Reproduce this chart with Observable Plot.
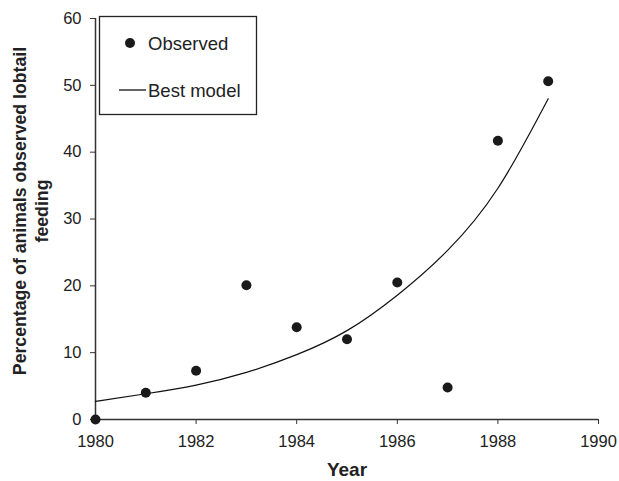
<!DOCTYPE html>
<html>
<head>
<meta charset="utf-8">
<script src="https://cdn.jsdelivr.net/npm/d3@7"></script>
<script src="https://cdn.jsdelivr.net/npm/@observablehq/plot@0.6"></script>
<style>
  html, body { margin: 0; padding: 0; background: #fff; }
  #chart { width: 619px; height: 481px; }
  svg { font-family: "Liberation Sans", Arial, sans-serif; }
</style>
</head>
<body>
<div id="chart"></div>
<script>
// Observed data
const years = [1980, 1981, 1982, 1983, 1984, 1985, 1986, 1987, 1988, 1989];
const observed = [0, 4.0, 7.3, 20.1, 13.8, 12.0, 20.5, 4.8, 41.7, 50.6];
// Best model curve
const modelYears = [1980, 1981, 1982, 1983, 1984, 1985, 1986, 1987, 1988, 1989];
const modelValues = [2.7, 3.85, 5.15, 7.05, 9.7, 13.3, 18.6, 25.3, 34.6, 48.0];
// Axis ticks
const xTicks = [1980, 1982, 1984, 1986, 1988, 1990];
const yTicks = [0, 10, 20, 30, 40, 50, 60];
const legendLabels = ["Observed", "Best model"];

const obsData = years.map((y, i) => ({year: y, value: observed[i]}));
const modelData = modelYears.map((y, i) => ({year: y, value: modelValues[i]}));

const ink = "#222";
const W = 619, H = 481;
const mL = 95, mR = 21, mT = 18, mB = 62;

const plot = Plot.plot({
  width: W,
  height: H,
  marginLeft: mL,
  marginRight: mR,
  marginTop: mT,
  marginBottom: mB,
  style: {fontFamily: '"Liberation Sans", Arial, sans-serif', color: ink, background: "#fff"},
  x: {domain: [1980, 1990]},
  y: {domain: [0, 60]},
  marks: [
    Plot.axisX({ticks: xTicks, tickFormat: d => String(d), tickSize: 5, tickPadding: 11, fontSize: 16.5, stroke: "#333", label: null}),
    Plot.axisY({ticks: yTicks, tickSize: 5, tickPadding: 9, fontSize: 16.5, stroke: "#333", label: null}),
    Plot.ruleX([1980], {y1: 0, y2: 60, stroke: "#333", strokeWidth: 1.5}),
    Plot.ruleY([0], {x1: 1980, x2: 1990, stroke: "#333", strokeWidth: 1.5}),
    Plot.line(modelData, {x: "year", y: "value", curve: "natural", stroke: "#111", strokeWidth: 1.2}),
    Plot.dot(obsData, {x: "year", y: "value", r: 5, fill: "#1a1a1a", stroke: "none"}),
    Plot.text(["Year"], {frameAnchor: "bottom", dy: 56, fontSize: 19, fontWeight: "bold", fill: ink}),
    Plot.text(["Percentage of animals observed lobtail\nfeeding"], {frameAnchor: "left", textAnchor: "middle", lineAnchor: "middle", rotate: -90, dx: -66, dy: -8, fontSize: 17.7, fontWeight: "bold", fill: ink, lineHeight: 1.25})
  ]
});

document.getElementById("chart").appendChild(plot);

// Legend box inside the plot
const svg = d3.select(plot);
const g = svg.append("g").attr("text-anchor", "start");
g.append("rect").attr("x", 99.5).attr("y", 16.5).attr("width", 157).attr("height", 98)
  .attr("fill", "#fff").attr("stroke", "#222").attr("stroke-width", 1.3);
g.append("circle").attr("cx", 130).attr("cy", 43).attr("r", 5).attr("fill", "#1a1a1a");
g.append("text").attr("x", 148).attr("y", 43).attr("dy", "0.36em").attr("text-anchor", "start").attr("font-size", 18.5).attr("fill", ink).text(legendLabels[0]);
g.append("line").attr("x1", 119).attr("x2", 146).attr("y1", 90).attr("y2", 90).attr("stroke", "#111").attr("stroke-width", 1.3);
g.append("text").attr("x", 148).attr("y", 90).attr("dy", "0.36em").attr("text-anchor", "start").attr("font-size", 18.5).attr("fill", ink).text(legendLabels[1]);
</script>
</body>
</html>
